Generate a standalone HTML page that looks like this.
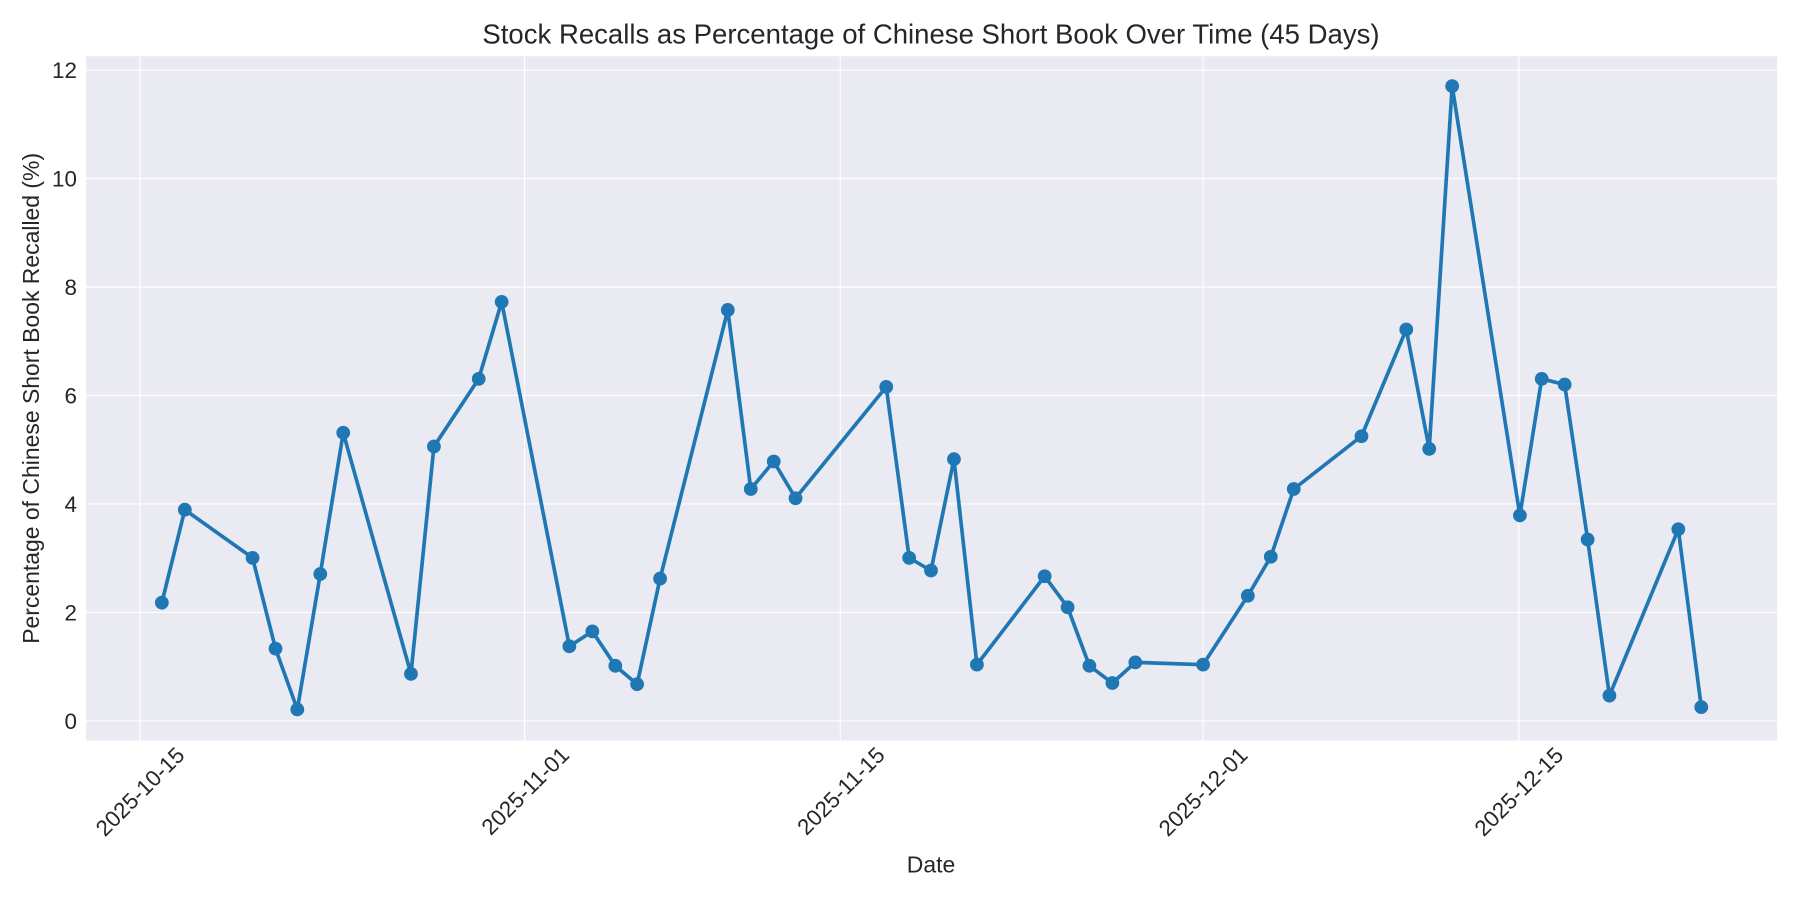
<!DOCTYPE html>
<html><head><meta charset="utf-8"><style>
body{margin:0;background:#fff;}
svg{display:block;}
text{font-family:"Liberation Sans","DejaVu Sans",sans-serif;fill:#262626;}
</style></head><body>
<svg width="1800" height="900" viewBox="0 0 1568 784" xmlns="http://www.w3.org/2000/svg">
<rect x="0" y="0" width="1568" height="784" fill="#fff"/>
<rect x="75" y="49" width="1473" height="596" fill="#eaeaf2"/>
<g stroke="#fff" stroke-width="1">
<line x1="75" x2="1548" y1="628" y2="628"/>
<line x1="75" x2="1548" y1="533.5" y2="533.5"/>
<line x1="75" x2="1548" y1="439" y2="439"/>
<line x1="75" x2="1548" y1="344.5" y2="344.5"/>
<line x1="75" x2="1548" y1="250" y2="250"/>
<line x1="75" x2="1548" y1="155.5" y2="155.5"/>
<line x1="75" x2="1548" y1="61" y2="61"/>
<line x1="122" x2="122" y1="49" y2="645"/>
<line x1="457" x2="457" y1="49" y2="645"/>
<line x1="732" x2="732" y1="49" y2="645"/>
<line x1="1048" x2="1048" y1="49" y2="645"/>
<line x1="1323" x2="1323" y1="49" y2="645"/>
</g>
<g font-size="19.5" text-anchor="end">
<text x="67" y="635">0</text>
<text x="67" y="540.5">2</text>
<text x="67" y="446">4</text>
<text x="67" y="351.5">6</text>
<text x="67" y="257">8</text>
<text x="67" y="162.5">10</text>
<text x="67" y="68">12</text>
</g>
<g font-size="19.5" text-anchor="end">
<text transform="translate(162,659) rotate(-45)">2025-10-15</text>
<text transform="translate(497,659) rotate(-45)">2025-11-01</text>
<text transform="translate(772,659) rotate(-45)">2025-11-15</text>
<text transform="translate(1088,659) rotate(-45)">2025-12-01</text>
<text transform="translate(1363,659) rotate(-45)">2025-12-15</text>
</g>
<text x="811" y="760" font-size="20" text-anchor="middle">Date</text>
<text transform="translate(34,347) rotate(-90)" font-size="20" text-anchor="middle">Percentage of Chinese Short Book Recalled (%)</text>
<text x="811" y="38" font-size="24" text-anchor="middle">Stock Recalls as Percentage of Chinese Short Book Over Time (45 Days)</text>
<polyline fill="none" stroke="#1f77b4" stroke-width="3.2" stroke-linejoin="round" points="141,525 161,444 220,486 240,565 259,618 279,500 299,377 358,587 378,389 417,330 437,263 496,563 516,550 536,580 555,596 575,504 634,270 654,426 674,402 693,434 772,337 792,486 811,497 831,400 851,579 910,502 930,529 949,580 969,595 989,577 1048,579 1087,519 1107,485 1127,426 1186,380 1225,287 1245,391 1265,75 1324,449 1343,330 1363,335 1383,470 1402,606 1462,461 1482,616"/>
<g fill="#1f77b4">
<circle cx="141" cy="525" r="6"/><circle cx="161" cy="444" r="6"/><circle cx="220" cy="486" r="6"/><circle cx="240" cy="565" r="6"/><circle cx="259" cy="618" r="6"/><circle cx="279" cy="500" r="6"/><circle cx="299" cy="377" r="6"/><circle cx="358" cy="587" r="6"/><circle cx="378" cy="389" r="6"/><circle cx="417" cy="330" r="6"/><circle cx="437" cy="263" r="6"/><circle cx="496" cy="563" r="6"/><circle cx="516" cy="550" r="6"/><circle cx="536" cy="580" r="6"/><circle cx="555" cy="596" r="6"/><circle cx="575" cy="504" r="6"/><circle cx="634" cy="270" r="6"/><circle cx="654" cy="426" r="6"/><circle cx="674" cy="402" r="6"/><circle cx="693" cy="434" r="6"/><circle cx="772" cy="337" r="6"/><circle cx="792" cy="486" r="6"/><circle cx="811" cy="497" r="6"/><circle cx="831" cy="400" r="6"/><circle cx="851" cy="579" r="6"/><circle cx="910" cy="502" r="6"/><circle cx="930" cy="529" r="6"/><circle cx="949" cy="580" r="6"/><circle cx="969" cy="595" r="6"/><circle cx="989" cy="577" r="6"/><circle cx="1048" cy="579" r="6"/><circle cx="1087" cy="519" r="6"/><circle cx="1107" cy="485" r="6"/><circle cx="1127" cy="426" r="6"/><circle cx="1186" cy="380" r="6"/><circle cx="1225" cy="287" r="6"/><circle cx="1245" cy="391" r="6"/><circle cx="1265" cy="75" r="6"/><circle cx="1324" cy="449" r="6"/><circle cx="1343" cy="330" r="6"/><circle cx="1363" cy="335" r="6"/><circle cx="1383" cy="470" r="6"/><circle cx="1402" cy="606" r="6"/><circle cx="1462" cy="461" r="6"/><circle cx="1482" cy="616" r="6"/>
</g>
</svg>
</body></html>
